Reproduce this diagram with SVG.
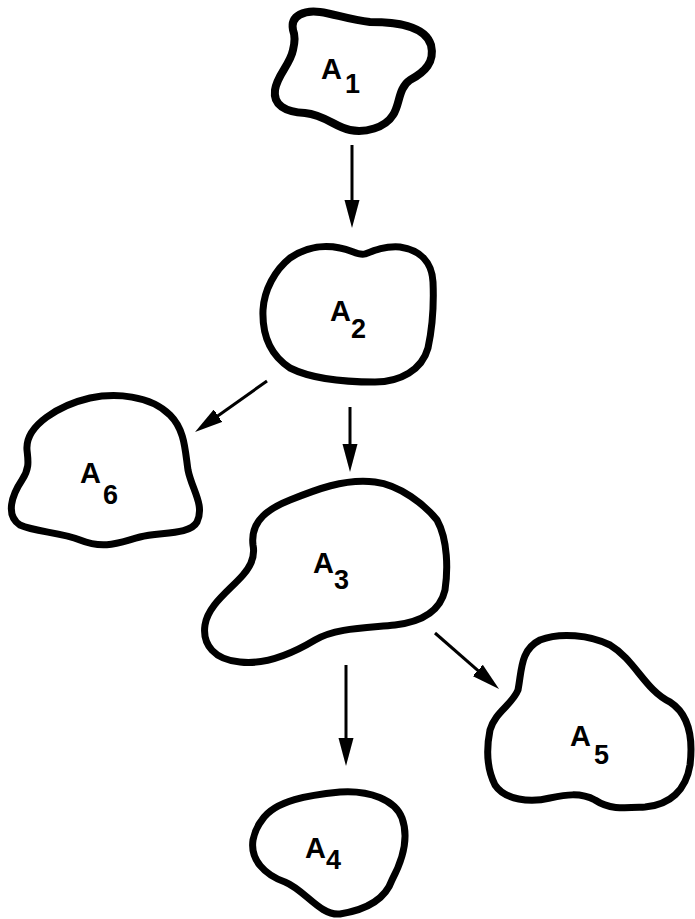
<svg xmlns="http://www.w3.org/2000/svg" width="695" height="919" viewBox="0 0 695 919">
<style>
.blob{fill:none;stroke:#000;stroke-width:7;stroke-linejoin:round}
.lbl{font-family:"Liberation Sans",Arial,sans-serif;font-size:29px;font-weight:bold;fill:#000}
.sub{font-size:27px}
.conn{stroke:#000;stroke-width:3;fill:none}
</style>
<defs>
<marker id="ah" markerWidth="30" markerHeight="20" refX="18" refY="8" orient="auto" markerUnits="userSpaceOnUse">
<path d="M0,0.5 L28,8 L0,15.5 Q-2,8 0,0.5 Z" fill="#000"/>
</marker>
</defs>
<rect width="695" height="919" fill="#fff"/>
<g id="A1">
<path class="blob" style="stroke-width:8" d="M293,30 C290,15 305,10 320,12 C335,14 350,20 370,22 C395,22 425,25 431,45 C435,62 425,72 410,80 C398,88 400,105 393,115 C385,128 365,133 350,130 C335,127 325,115 305,113 C285,112 273,105 275,90 C277,75 290,65 293,50 C295,42 295,35 293,30 Z"/>
<text class="lbl" x="321" y="79">A</text><text class="lbl sub" x="345" y="93">1</text>
</g>
<g id="A2">
<path class="blob" d="M290,258 C305,248 320,244 340,248 C352,250 358,256 365,254 C375,250 385,246 400,247 C420,250 432,262 433,282 C434,305 433,325 428,348 C422,370 400,382 375,382 C340,382 310,378 290,368 C270,355 262,335 263,310 C264,290 275,270 290,258 Z"/>
<text class="lbl" x="330" y="321">A</text><text class="lbl sub" x="351" y="338">2</text>
</g>
<g id="A6">
<path class="blob" d="M27,450 C25,425 60,405 90,398 C115,393 150,395 170,415 C185,430 185,450 188,470 C192,490 205,505 197,522 C190,535 160,532 140,537 C120,542 105,550 80,540 C60,532 35,532 20,525 C5,515 12,495 22,480 C30,468 28,460 27,450 Z"/>
<text class="lbl" x="80" y="483">A</text><text class="lbl sub" x="103" y="504">6</text>
</g>
<g id="A3">
<path class="blob" d="M253,545 C250,520 270,508 290,500 C315,490 345,478 375,482 C400,485 425,505 437,520 C448,540 448,570 445,590 C440,612 420,622 395,625 C365,628 335,628 315,640 C290,655 265,665 240,662 C215,660 202,645 205,625 C208,605 230,590 243,575 C252,565 255,555 253,545 Z"/>
<text class="lbl" x="313" y="573">A</text><text class="lbl sub" x="334" y="589">3</text>
</g>
<g id="A5">
<path class="blob" d="M518,690 C522,670 520,650 540,640 C560,632 590,635 610,645 C635,660 645,690 670,702 C690,715 693,740 690,765 C686,790 670,805 645,807 C625,808 610,810 595,800 C580,792 565,795 550,798 C530,803 505,800 495,785 C485,765 487,745 490,730 C495,712 512,705 518,690 Z"/>
<text class="lbl" x="570" y="746">A</text><text class="lbl sub" x="594" y="764">5</text>
</g>
<g id="A4">
<path class="blob" d="M262,820 C275,800 310,795 340,792 C370,790 395,800 402,818 C410,840 400,865 392,880 C385,900 365,910 340,914 C320,916 305,890 285,882 C265,875 250,860 253,840 C255,830 258,825 262,820 Z"/>
<text class="lbl" x="305" y="858">A</text><text class="lbl sub" x="326" y="869">4</text>
</g>
<g id="connectors">
<line class="conn" x1="352" y1="145" x2="352" y2="218" marker-end="url(#ah)"/>
<line class="conn" x1="267" y1="381" x2="203.2" y2="426.2" marker-end="url(#ah)"/>
<line class="conn" x1="350" y1="407" x2="350" y2="462" marker-end="url(#ah)"/>
<line class="conn" x1="435" y1="633" x2="491.5" y2="682.4" marker-end="url(#ah)"/>
<line class="conn" x1="346" y1="665" x2="346" y2="756" marker-end="url(#ah)"/>
</g>
</svg>
